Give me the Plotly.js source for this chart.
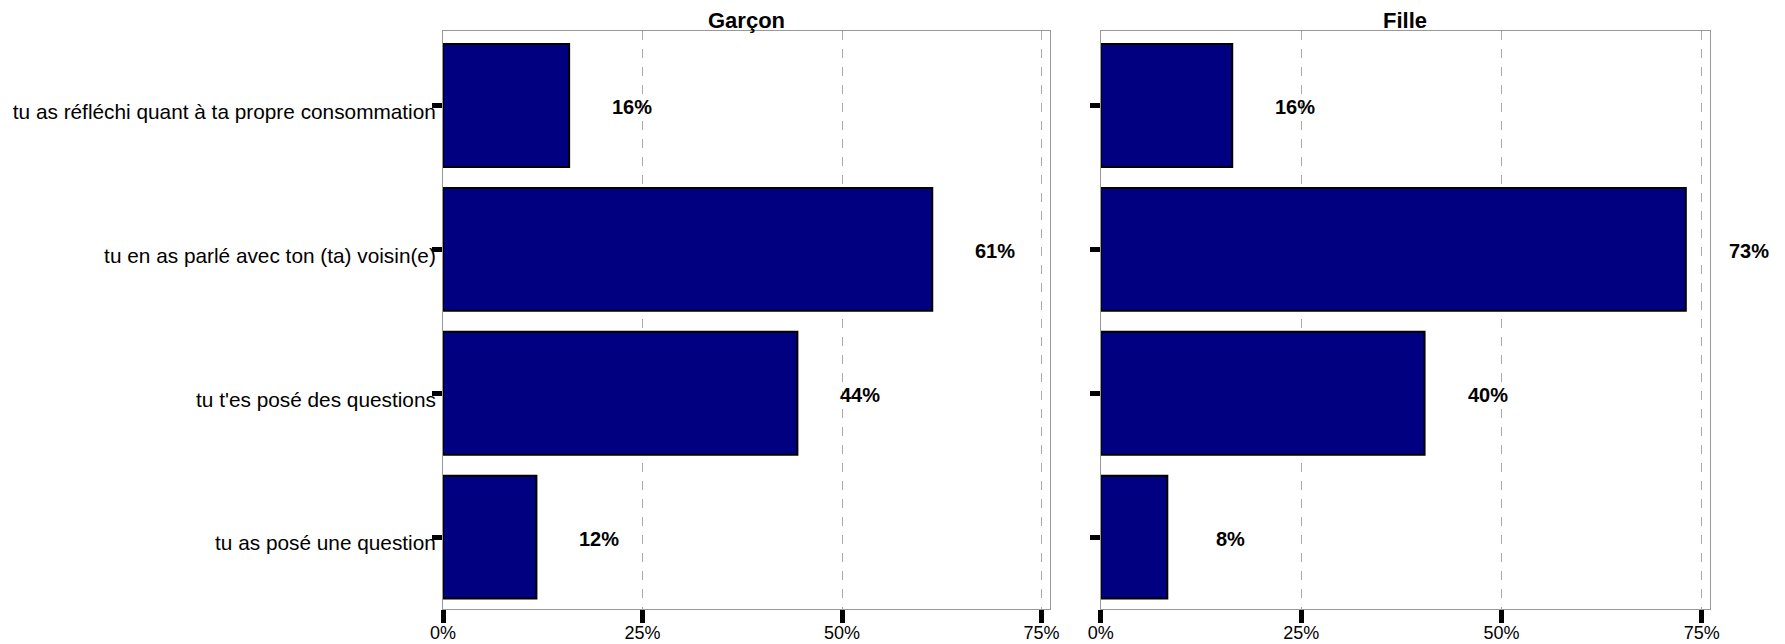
<!DOCTYPE html>
<html>
<head>
<meta charset="utf-8">
<script src="https://cdn.plot.ly/plotly-3.0.1.min.js"></script>
<style>html,body{margin:0;padding:0;background:#fff}#chart{width:1785px;height:644px}</style>
</head>
<body>
<div id="chart"></div>
<script>
// Data (top-to-bottom order as displayed)
const categories = [
  "tu as réfléchi quant à ta propre consommation",
  "tu en as parlé avec ton (ta) voisin(e)",
  "tu t'es posé des questions",
  "tu as posé une question"
];
const panels = ["Garçon", "Fille"];
const garconValues = [0.158, 0.613, 0.444, 0.117];
const filleValues = [0.164, 0.730, 0.404, 0.083];
const tickValues = [0, 0.25, 0.5, 0.75];
const tickLabels = ["0%", "25%", "50%", "75%"];

const FONT = "Liberation Sans, Arial, sans-serif";
const series = [garconValues, filleValues];
const axisSuffix = ["", "2"];

const traces = series.map((vals, i) => ({
  type: "bar",
  orientation: "h",
  x: vals,
  y: categories,
  xaxis: "x" + axisSuffix[i],
  yaxis: "y" + axisSuffix[i],
  width: 0.854,
  marker: {color: "#000080", line: {color: "#000000", width: 2}},
  hoverinfo: "x+y",
  showlegend: false
}));

const annotations = [];
series.forEach((vals, i) => {
  vals.forEach((v, j) => {
    annotations.push({
      x: v, y: categories[j],
      xref: "x" + axisSuffix[i], yref: "y" + axisSuffix[i],
      text: "<b>" + Math.round(v * 100) + "%</b>",
      showarrow: false, xshift: 63, yshift: -2, xanchor: "center", yanchor: "middle",
      font: {family: FONT, size: 20, color: "#000"}
    });
  });
});
const domains = [[0.2482, 0.5880], [0.6167, 0.9579]];
panels.forEach((p, i) => {
  annotations.push({
    text: "<b>" + p + "</b>", xref: "paper", yref: "paper",
    x: (domains[i][0] + domains[i][1]) / 2, y: 1 - 20.5 / 644,
    xanchor: "center", yanchor: "middle", showarrow: false,
    font: {family: FONT, size: 22, color: "#000"}
  });
});

function xax(i) {
  return {
    domain: domains[i], anchor: "y" + axisSuffix[i],
    range: [0, 0.76], tickvals: tickValues, ticktext: tickLabels,
    ticks: "outside", ticklen: 13, tickwidth: 5, tickcolor: "#000",
    ticklabelstandoff: -6,
    showline: true, linecolor: "#999", linewidth: 1, mirror: true,
    showgrid: true, gridcolor: "#aaaaaa", griddash: "dash", gridwidth: 1,
    zeroline: false, fixedrange: true,
    tickfont: {family: FONT, size: 18, color: "#000"}
  };
}
function yax(i) {
  return {
    domain: [1 - 609 / 644, 1 - 30.7 / 644], anchor: "x" + axisSuffix[i],
    type: "category", range: [3.5, -0.52],
    ticks: "outside", ticklen: 10, tickwidth: 5, tickcolor: "#000",
    showticklabels: i === 0, ticklabelstandoff: -8, ticklabelshift: -6,
    showline: true, linecolor: "#999", linewidth: 1, mirror: true,
    showgrid: false, zeroline: false, fixedrange: true,
    tickfont: {family: FONT, size: 20.8, color: "#000"}
  };
}

const layout = {
  width: 1785, height: 644,
  margin: {l: 0, r: 0, t: 0, b: 0},
  paper_bgcolor: "#fff", plot_bgcolor: "#fff",
  font: {family: FONT, color: "#000"},
  xaxis: xax(0), yaxis: yax(0),
  xaxis2: xax(1), yaxis2: yax(1),
  annotations: annotations,
  bargap: 0
};

Plotly.newPlot("chart", traces, layout, {displayModeBar: false, staticPlot: true});
</script>
</body>
</html>
